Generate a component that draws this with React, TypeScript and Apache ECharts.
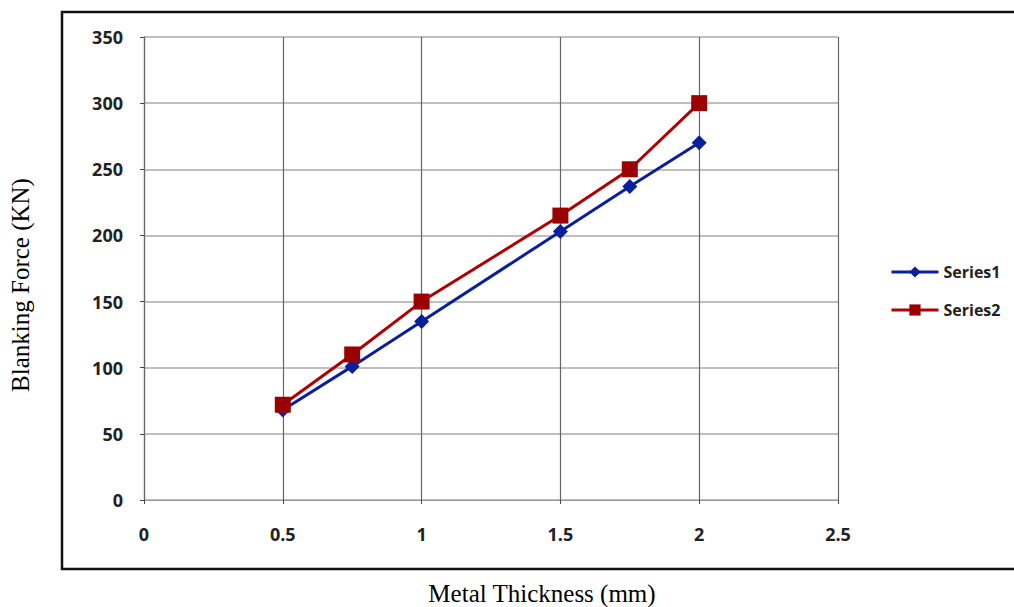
import React, { useEffect, useRef } from "react";
import * as echarts from "echarts";

const thickness = [0.5, 0.75, 1, 1.5, 1.75, 2];
const series1 = [68, 101, 135, 203, 237, 270];
const series2 = [72, 110, 150, 215, 250, 300];
const seriesNames = ["Series1", "Series2"];

export default function App() {
  const ref = useRef<HTMLDivElement>(null);
  useEffect(() => {
    const chart = echarts.init(ref.current!, null, { renderer: "svg" });
    const tickFont = {
      fontFamily: "Open Sans",
      fontWeight: "bold" as const,
      fontSize: 18,
      color: "#222",
    };
    chart.setOption({
      animation: false,
      backgroundColor: "#fff",
      grid: { left: 144, top: 37, right: 176, bottom: 107 },
      xAxis: {
        type: "value",
        min: 0,
        max: 2.5,
        interval: 0.5,
        axisLine: { show: true, lineStyle: { color: "#999", width: 1 } },
        axisTick: { show: true, length: 4, lineStyle: { color: "#444" } },
        splitLine: { show: true, lineStyle: { color: "#666", width: 1.2 } },
        axisLabel: { ...tickFont, margin: 25 },
      },
      yAxis: {
        type: "value",
        min: 0,
        max: 350,
        interval: 50,
        axisLine: { show: true, lineStyle: { color: "#666", width: 1.2 } },
        axisTick: { show: true, length: 4, lineStyle: { color: "#444" } },
        splitLine: { show: true, lineStyle: { color: "#aaa", width: 1.6 } },
        axisLabel: { ...tickFont, margin: 21 },
      },
      legend: {
        orient: "vertical",
        left: 885,
        top: 259,
        itemWidth: 47,
        itemHeight: 14,
        itemGap: 22,
        lineStyle: { width: 3 },
        textStyle: { ...tickFont, fontSize: 16 },
        data: seriesNames,
      },
      series: [
        {
          name: seriesNames[0],
          type: "line",
          data: thickness.map((x, i) => [x, series1[i]]),
          symbol: "diamond",
          symbolSize: 15,
          color: "#0a1f9b",
          lineStyle: { width: 3, color: "#0a1f9b" },
          itemStyle: { color: "#0a1f9b" },
        },
        {
          name: seriesNames[1],
          type: "line",
          data: thickness.map((x, i) => [x, series2[i]]),
          symbol: "rect",
          symbolSize: 16,
          color: "#9b0000",
          lineStyle: { width: 3, color: "#b00000" },
          itemStyle: { color: "#9b0000" },
        },
      ],
      graphic: [
        {
          type: "polyline",
          shape: { points: [[1016, 12], [62, 12], [62, 569], [1016, 569]] },
          style: { stroke: "#111", lineWidth: 2.5, fill: "none" },
          z: 10,
        },
        {
          type: "text",
          x: 20,
          y: 285,
          rotation: Math.PI / 2,
          style: {
            text: "Blanking Force (KN)",
            font: '25px "Liberation Serif"',
            fill: "#000",
            align: "center",
            verticalAlign: "middle",
          },
        },
        {
          type: "text",
          x: 542,
          y: 593,
          style: {
            text: "Metal Thickness (mm)",
            font: '25px "Liberation Serif"',
            fill: "#000",
            align: "center",
            verticalAlign: "middle",
          },
        },
      ],
    });
    return () => chart.dispose();
  }, []);
  return (
    <div
      ref={ref}
      style={{ position: "fixed", left: 0, top: 0, width: 1014, height: 607 }}
    />
  );
}
